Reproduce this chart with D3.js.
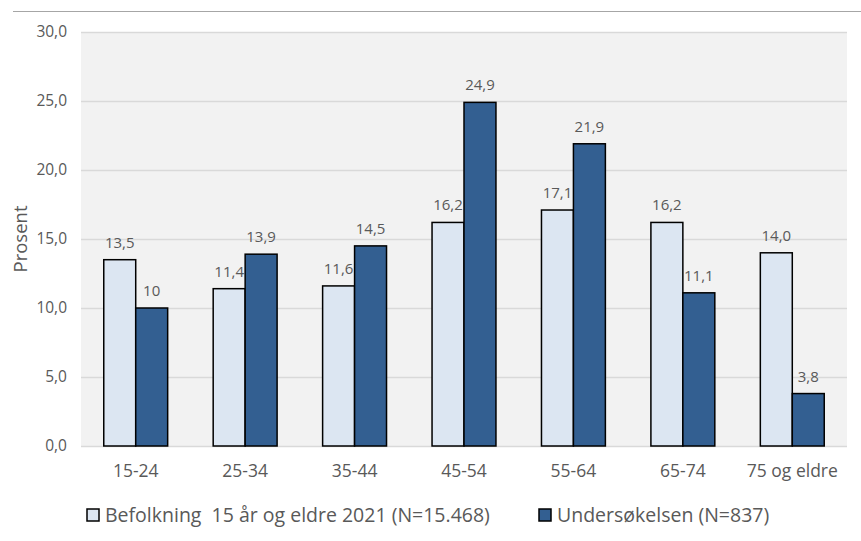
<!DOCTYPE html>
<html><head><meta charset="utf-8">
<script src="https://cdn.jsdelivr.net/npm/d3@7"></script>
<style>body{margin:0;background:#fff;} text{font-family:"Open Sans",sans-serif;}</style>
</head><body>
<svg id="c" width="861" height="541"></svg>
<script>
const categories = ["15-24","25-34","35-44","45-54","55-64","65-74","75 og eldre"];
const befolkning = [13.5, 11.4, 11.6, 16.2, 17.1, 16.2, 14.0];
const undersokelsen = [10, 13.9, 14.5, 24.9, 21.9, 11.1, 3.8];
const befolkningLabels = ["13,5","11,4","11,6","16,2","17,1","16,2","14,0"];
const undersokelsenLabels = ["10","13,9","14,5","24,9","21,9","11,1","3,8"];
const yTicks = [0,5,10,15,20,25,30];
const seriesNames = ["Befolkning  15 år og eldre 2021 (N=15.468)", "Undersøkelsen (N=837)"];

(function(){
const svg = d3.select("#c");
const pL = 81, pR = 847, pT = 32, pB = 446;
const lightC = "#dce6f2", darkC = "#335f91", textC = "#595959";

svg.append("line").attr("x1",13).attr("x2",861).attr("y1",11.5).attr("y2",11.5)
  .attr("stroke","#a6a6a6").attr("stroke-width",1);

svg.append("rect").attr("x",pL).attr("y",pT).attr("width",pR-pL).attr("height",pB-pT).attr("fill","#f2f2f2");

const y = d3.scaleLinear().domain([0,30]).range([pB, pT]);
const x = d3.scaleBand().domain(categories).range([pL, pR]).paddingInner(0).paddingOuter(0);
const bw = x.bandwidth()*0.292;

const gy = svg.append("g").attr("transform",`translate(${pL},0)`)
  .call(d3.axisLeft(y).tickValues(yTicks).tickSize(-(pR-pL)).tickPadding(14)
    .tickFormat(d => d3.format(".1f")(d).replace(".",",")));
gy.select(".domain").remove();
gy.selectAll(".tick line").attr("stroke","#d9d9d9").attr("stroke-width",1.5);
gy.selectAll(".tick text").attr("fill",textC).attr("font-size",15.5).attr("font-family","Open Sans");

const gx = svg.append("g").attr("transform",`translate(0,${pB})`)
  .call(d3.axisBottom(x).tickSize(0).tickPadding(19));
gx.select(".domain").remove();
gx.selectAll(".tick text").attr("fill",textC).attr("font-size",17.5).attr("font-family","Open Sans");

svg.append("text").attr("transform",`translate(27,239) rotate(-90)`)
  .attr("text-anchor","middle").attr("fill",textC).attr("font-size",18.5).text("Prosent");

svg.append("g").selectAll("rect").data(befolkning).join("rect")
  .attr("x",(d,i)=>x(categories[i])+x.bandwidth()/2-bw).attr("width",bw)
  .attr("y",d=>y(d)).attr("height",d=>pB-y(d))
  .attr("fill",lightC).attr("stroke","#000").attr("stroke-width",1.5);
svg.append("g").selectAll("text").data(befolkning).join("text")
  .attr("x",(d,i)=>x(categories[i])+x.bandwidth()/2-bw/2).attr("y",d=>y(d)-12)
  .attr("text-anchor","middle").attr("fill",textC).attr("font-size",15)
  .text((d,i)=>befolkningLabels[i]);
svg.append("g").selectAll("rect").data(undersokelsen).join("rect")
  .attr("x",(d,i)=>x(categories[i])+x.bandwidth()/2).attr("width",bw)
  .attr("y",d=>y(d)).attr("height",d=>pB-y(d))
  .attr("fill",darkC).attr("stroke","#000").attr("stroke-width",1.5);
svg.append("g").selectAll("text").data(undersokelsen).join("text")
  .attr("x",(d,i)=>x(categories[i])+x.bandwidth()/2+bw/2).attr("y",d=>y(d)-12)
  .attr("text-anchor","middle").attr("fill",textC).attr("font-size",15)
  .text((d,i)=>undersokelsenLabels[i]);

const legX = [87, 539];
const lg = svg.append("g").selectAll("g").data(seriesNames).join("g")
  .attr("transform",(d,i)=>`translate(${legX[i]},509)`);
lg.append("rect").attr("width",12).attr("height",12)
  .attr("fill",(d,i)=>i===0?lightC:darkC).attr("stroke","#000").attr("stroke-width",1.5);
lg.append("text").attr("x",18).attr("y",13).attr("fill",textC).attr("font-size",19.5)
  .style("white-space","pre").text(d=>d);
})();
</script>
</body></html>
